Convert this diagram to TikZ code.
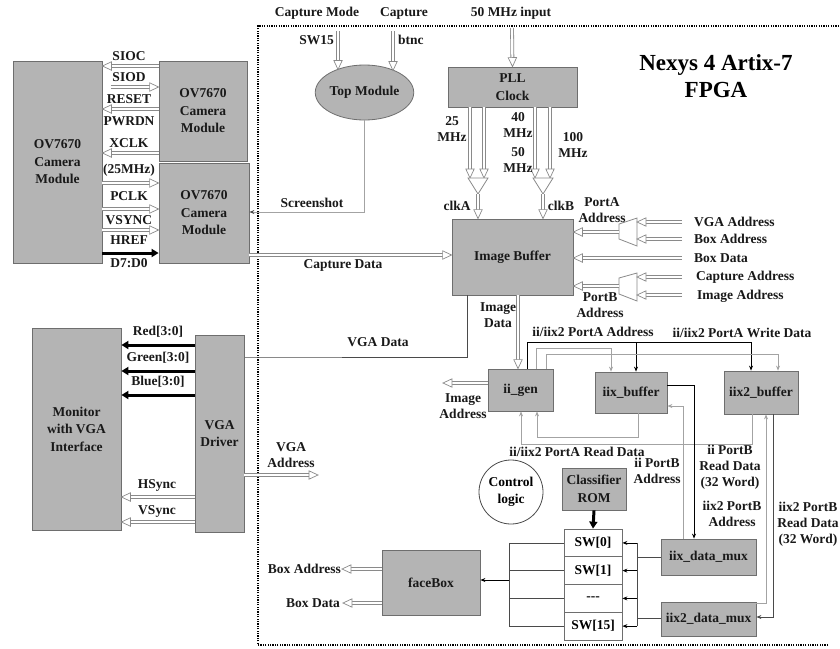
\documentclass[tikz,border=0pt]{standalone}
\usepackage{fontspec}
\setmainfont{Liberation Serif}
\usetikzlibrary{arrows.meta,decorations.markings,shapes.geometric}
\definecolor{boxfill}{HTML}{B4B4B4}
\definecolor{boxline}{HTML}{6E6E6E}
\definecolor{hgray}{HTML}{8A8A8A}
\definecolor{lgray}{HTML}{A3A3A3}
\definecolor{dgray}{HTML}{4A4A4A}
\newcommand\lblfont{\bfseries\fontsize{13.5}{16}\selectfont}
\newcommand\boxfont{\bfseries\fontsize{13.5}{17.5}\selectfont}
\begin{document}
\begin{tikzpicture}[x=1pt,y=-1pt,
 lbl/.style={font=\lblfont, inner sep=0pt, align=center, text=black!90},
 box/.style={draw=boxline, fill=boxfill, line width=0.8pt, font=\boxfont, align=center, inner sep=0pt, text=black!90},
 sz/.style 2 args={minimum width=#1pt, minimum height=#2pt},
 swrow/.style={draw=boxline, fill=white, line width=0.8pt, font=\boxfont, inner sep=0pt, minimum width=58pt, minimum height=27.75pt},
 muxst/.style={draw=hgray, fill=white, line width=0.8pt},
 hollow/.style={draw=hgray, line width=3.8pt, shorten >=8.5pt,
   postaction={draw=white, line width=2.2pt},
   postaction={draw=none, decorate, decoration={markings, mark=at position 1 with {\draw[hgray, fill=white, line width=0.7pt, shorten >=0pt, shorten <=0pt, line join=miter] (0pt,0pt) -- (-9pt,4.2pt) -- (-9pt,-4.2pt) -- cycle;}}}},
 hollowboth/.style={draw=hgray, line width=3.8pt, shorten >=8.5pt, shorten <=8.5pt,
   postaction={draw=white, line width=2.2pt},
   postaction={draw=none, decorate, decoration={markings,
     mark=at position 1 with {\draw[hgray, fill=white, line width=0.7pt, shorten >=0pt, shorten <=0pt, line join=miter] (0pt,0pt) -- (-9pt,4.2pt) -- (-9pt,-4.2pt) -- cycle;},
     mark=at position 0 with {\draw[hgray, fill=white, line width=0.7pt, shorten >=0pt, shorten <=0pt, line join=miter] (0pt,0pt) -- (9pt,4.2pt) -- (9pt,-4.2pt) -- cycle;}}}},
 thickarr/.style={black, line width=3pt, -{Triangle[length=7pt,width=8pt]}},
 arr/.style={black, line width=0.8pt, -{Stealth[length=5pt,width=4pt]}},
 garr/.style={lgray, line width=0.8pt, -{Stealth[length=5pt,width=4pt]}},
 darr/.style={dgray, line width=0.8pt, -{Stealth[length=5pt,width=4pt]}},
 pline/.style={dgray, line width=0.8pt},
]
\useasboundingbox (0,0) rectangle (840,648);
\fill[white] (0,0) rectangle (840,648);

% FPGA boundary
\draw[line width=1.1pt, dash pattern=on 1.2pt off 1.2pt] (828,645) -- (258,645) -- (258,26) -- (840,26);

% title and top labels
\node[font=\bfseries\fontsize{23}{27}\selectfont, align=center, inner sep=0pt] (title) at (716,76.5) {Nexys 4 Artix-7\\FPGA};
\node[lbl] (lcapmode) at (317,13) {Capture Mode};
\node[lbl] (lcap) at (404,13) {Capture};
\node[lbl] (l50in) at (511,13) {50 MHz input};

% camera section
\node[box, sz={89}{202}] (camL) at (57.5,162) {OV7670\\Camera\\Module};
\node[box, sz={88}{100}] (camT) at (203,111) {OV7670\\Camera\\Module};
\node[box, sz={90}{100}] (camB) at (204,213) {OV7670\\Camera\\Module};

\draw[hollow] (camT.west |- 0,66) -- (camL.east |- 0,66);
\draw[hollowboth] (camL.east |- 0,87) -- (camT.west |- 0,87);
\draw[hollow] (camT.west |- 0,109) -- (camL.east |- 0,109);
\draw[hollow] (camT.west |- 0,153) -- (camL.east |- 0,153);
\draw[hollow] (camL.east |- 0,183) -- (camB.west |- 0,183);
\draw[hollow] (camL.east |- 0,209) -- (camB.west |- 0,209);
\draw[hollow] (camL.east |- 0,230) -- (camB.west |- 0,230);
\draw[thickarr] (camL.east |- 0,253) -- (camB.west |- 0,253);

\node[lbl] (lsioc) at (129,56) {SIOC};
\node[lbl] (lsiod) at (129,77) {SIOD};
\node[lbl] (lreset) at (129,99) {RESET};
\node[lbl] (lpwrdn) at (129,121) {PWRDN};
\node[lbl] (lxclk) at (129,143) {XCLK};
\node[lbl] (l25m) at (129,170) {(25MHz)};
\node[lbl] (lpclk) at (129,196) {PCLK};
\node[lbl] (lvsync) at (129,220) {VSYNC};
\node[lbl] (lhref) at (129,240) {HREF};
\node[lbl] (ld7) at (129,263) {D7:D0};

% top module
\node[box, ellipse, sz={93}{55}] (top) at (364.5,92.5) {Top Module};
\coordinate (sw15s) at (338,31);
\coordinate (sw15e) at (338,69.5);
\coordinate (btncs) at (393,31);
\coordinate (btnce) at (393,70.5);
\draw[hollow] (sw15s) -- (sw15e);
\draw[hollow] (btncs) -- (btnce);
\node[lbl, anchor=east] (lsw15) at (334,40) {SW15};
\node[lbl, anchor=west] (lbtnc) at (398,40) {btnc};
\draw[lgray, line width=0.8pt, -{Stealth[length=5pt,width=4pt,color=dgray]}] (top.south) |- (camB.east |- 0,212);
\node[lbl] (lshot) at (312,203) {Screenshot};

% PLL and clocks
\node[box, sz={129}{40}] (pll) at (512.5,87) {PLL\\Clock};
\coordinate (in50) at (512,28);
\draw[hollow] (in50) -- (pll.north);
\node[box, sz={121}{76}] (ibuf) at (512.5,257) {Image Buffer};

\coordinate (ma1) at (468,178);
\coordinate (ma2) at (488,178);
\coordinate (maA) at (478,194);
\coordinate (mb1) at (533,178);
\coordinate (mb2) at (553,178);
\coordinate (mbA) at (543,194);
\draw[hollow] (pll.south -| 470,0) -- (470,178);
\draw[hollow] (pll.south -| 484,0) -- (484,178);
\draw[hollow] (pll.south -| 535,0) -- (535,178);
\draw[hollow] (pll.south -| 550,0) -- (550,178);
\draw[muxst] (ma1) -- (ma2) -- (maA) -- cycle;
\draw[muxst] (mb1) -- (mb2) -- (mbA) -- cycle;
\draw[hollow] (maA) -- (ibuf.north -| maA);
\draw[hollow] (mbA) -- (ibuf.north -| mbA);
\node[lbl] (l25) at (452,129.5) {25\\MHz};
\node[lbl] (l40) at (518,125) {40\\MHz};
\node[lbl] (l50) at (518,160) {50\\MHz};
\node[lbl] (l100) at (573,145.5) {100\\MHz};
\node[lbl] (lclka) at (457,206) {clkA};
\node[lbl] (lclkb) at (561,206) {clkB};

% port muxes
\coordinate (pa1) at (619,224);
\coordinate (pa2) at (637,218);
\coordinate (pa3) at (637,246);
\coordinate (pa4) at (619,239);
\coordinate (pb1) at (619,278);
\coordinate (pb2) at (637,273);
\coordinate (pb3) at (637,301);
\coordinate (pb4) at (619,294);
\draw[muxst] (pa1) -- (pa2) -- (pa3) -- (pa4) -- cycle;
\draw[muxst] (pb1) -- (pb2) -- (pb3) -- (pb4) -- cycle;
\draw[hollow] (682,222) -- (637,222);
\draw[hollow] (682,239) -- (637,239);
\draw[hollow] (682,258) -- (ibuf.east |- 0,258);
\draw[hollow] (682,277) -- (637,277);
\draw[hollow] (682,295) -- (637,295);
\draw[hollow] (619,232) -- (ibuf.east |- 0,232);
\draw[hollow] (619,286) -- (ibuf.east |- 0,286);
\node[lbl] (lpa) at (602,210) {PortA\\Address};
\node[lbl] (lpb) at (600,305.5) {PortB\\Address};
\node[lbl, anchor=west] (lvgaa) at (694,222) {VGA Address};
\node[lbl, anchor=west] (lboxa) at (694,239) {Box Address};
\node[lbl, anchor=west] (lboxd) at (694,258) {Box Data};
\node[lbl, anchor=west] (lcapa) at (696,277) {Capture Address};
\node[lbl, anchor=west] (limga) at (697,296) {Image Address};

% capture data, VGA data
\draw[hollow] (camB.east |- 0,255) -- (ibuf.west |- 0,255);
\node[lbl] (lcapd) at (343,265) {Capture Data};
\draw[darr] (ibuf.south -| 467,0) |- (219.5,357) -- (244,357);
\node[lbl] (lvgad) at (378,342) {VGA Data};

% monitor / VGA driver
\node[box, sz={89}{202}] (mon) at (76.5,429) {Monitor\\with VGA\\Interface};
\node[box, sz={49}{197}] (vga) at (219.5,433.5) {VGA\\Driver};
\draw[thickarr] (vga.west |- 0,345) -- (mon.east |- 0,345);
\draw[thickarr] (vga.west |- 0,371) -- (mon.east |- 0,371);
\draw[thickarr] (vga.west |- 0,395) -- (mon.east |- 0,395);
\draw[hollow] (vga.west |- 0,497) -- (mon.east |- 0,497);
\draw[hollow] (vga.west |- 0,522) -- (mon.east |- 0,522);
\node[lbl] (lred) at (158,332) {Red[3:0]};
\node[lbl] (lgreen) at (158,358) {Green[3:0]};
\node[lbl] (lblue) at (158,382) {Blue[3:0]};
\node[lbl] (lhs) at (157,485) {HSync};
\node[lbl] (lvs) at (157,511) {VSync};
\coordinate (vgaaE) at (318,475);
\draw[hollow] (vga.east |- 0,475) -- (vgaaE);
\node[lbl] (lvgaaddr) at (291,455) {VGA\\Address};

% processing blocks
\node[box, sz={65}{42}] (iigen) at (520.5,390) {ii\_gen};
\node[box, sz={72}{41}] (iixbuf) at (631,392.5) {iix\_buffer};
\node[box, sz={74}{43}] (iix2buf) at (761,392.5) {iix2\_buffer};
\draw[hollow] (ibuf.south -| 518,0) -- (iigen.north -| 518,0);
\node[lbl] (limgd) at (498,315) {Image\\Data};
\coordinate (imgaE) at (443,383);
\draw[hollow] (iigen.west |- 0,383) -- (imgaE);
\node[lbl] (limgaddr) at (463,406.5) {Image\\Address};

\draw[arr] (iigen.north -| 527,0) |- (751,342) -- (iix2buf.north -| 751,0);
\draw[arr] (636,342) -- (iixbuf.north -| 636,0);
\draw[garr] (iigen.north -| 536,0) |- (611,348) -- (iixbuf.north -| 611,0);
\draw[garr] (iigen.north -| 546,0) |- (778,354) -- (iix2buf.north -| 778,0);
\node[lbl] (lpaaddr) at (593,332) {ii/iix2 PortA Address};
\node[lbl] (lpawd) at (742,333) {ii/iix2 PortA Write Data};
\draw[garr] (iixbuf.south -| 638,0) |- (537,437) -- (iigen.south -| 537,0);
\draw[garr] (iix2buf.south -| 752,0) |- (521,444) -- (iigen.south -| 521,0);
\node[lbl] (lpard) at (577,452) {ii/iix2 PortA Read Data};

\node[circle, draw=dgray, fill=white, line width=0.8pt, minimum size=64pt, inner sep=0pt, font=\boxfont, align=center] (ctrl) at (511,492) {Control\\logic};
\node[box, sz={64}{42}] (rom) at (594,489) {Classifier\\ROM};
\node[swrow] (sw0) at (593,542.9) {SW[0]};
\node[swrow] (sw1) at (593,570.6) {SW[1]};
\node[swrow] (sw2) at (593,598.4) {-{}-{}-};
\node[swrow] (sw3) at (593,626.1) {SW[15]};
\draw[thickarr] (rom.south) -- (sw0.north);

\node[box, sz={95}{36}] (dmux1) at (708.5,557) {iix\_data\_mux};
\node[box, sz={95}{34}] (dmux2) at (708.5,619) {iix2\_data\_mux};
\node[box, sz={98}{65}] (face) at (431,582.5) {faceBox};

\draw[arr] (iixbuf.east |- 0,385) -| (dmux1.north -| 694,0);
\draw[garr] (dmux1.north -| 683,0) |- (iixbuf.east |- 0,406);
\draw[garr] (dmux2.east |- 0,603) -| (iix2buf.south -| 766,0);
\draw[darr] (iix2buf.south -| 773,0) |- (dmux2.east |- 0,617);
\node[lbl] (liipba) at (657,471) {ii PortB\\Address};
\node[lbl] (liipbrd) at (730,467) {ii PortB\\Read Data\\(32 Word)};
\node[lbl] (liix2pba) at (732,514) {iix2 PortB\\Address};
\node[lbl] (liix2pbrd) at (808,524) {iix2 PortB\\Read Data\\(32 Word)};

% bus to SW table
\draw[pline] (637,542.9) -- (637,626.1);
\foreach \s in {sw0,sw1,sw2,sw3} {\draw[arr] (\s.east -| 637,0) -- (\s.east);}
\draw[pline] (dmux1.west) -- (dmux1.west -| 637,0);
\draw[pline] (dmux2.west |- 0,618) -- (637,618);
% SW table to faceBox
\foreach \s in {sw0,sw1,sw2,sw3} {\draw[pline] (\s.west) -- (\s.west -| 509,0);}
\draw[pline] (509,542.9) -- (509,626.1);
\draw[arr] (509,580) -- (face.east |- 0,580);

% faceBox outputs
\coordinate (baE) at (342,569);
\coordinate (bdE) at (343,603);
\draw[hollow] (face.west |- 0,569) -- (baE);
\draw[hollow] (face.west |- 0,603) -- (bdE);
\node[lbl, anchor=east] (lboxaddr) at (341,569) {Box Address};
\node[lbl, anchor=east] (lboxdata) at (340,603) {Box Data};
\end{tikzpicture}
\end{document}
